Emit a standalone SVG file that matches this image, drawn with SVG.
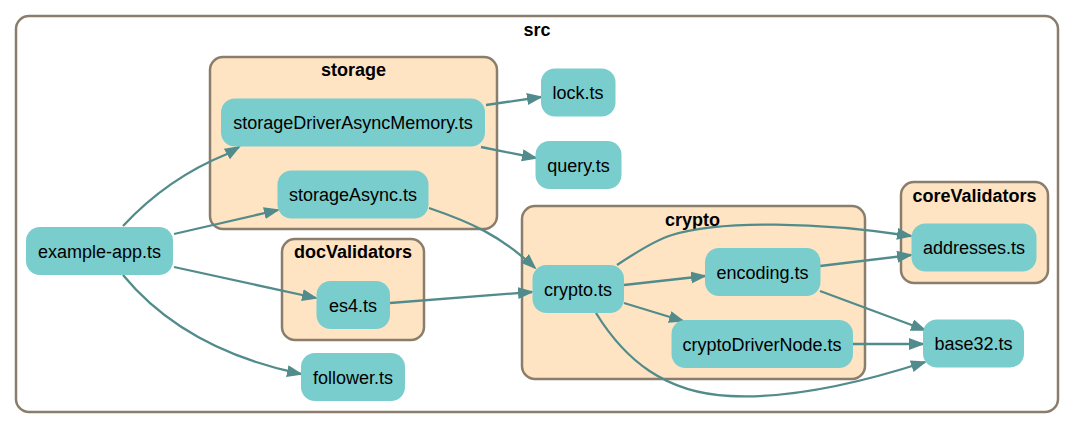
<svg xmlns="http://www.w3.org/2000/svg" width="1073" height="428" viewBox="0 0 1073 428">
<style>
.cl{fill:#ffe4c4;stroke:#8b7d6b;stroke-width:2.5}
.root{fill:#ffffff;stroke:#8b7d6b;stroke-width:2.5}
.ct{font-family:"Liberation Sans",Arial,sans-serif;font-size:18px;font-weight:bold;fill:#000;text-anchor:middle}
.nd{fill:#79cdcd;stroke:none}
.nt{font-family:"Liberation Sans",Arial,sans-serif;font-size:18px;fill:#000;text-anchor:middle}
.e{fill:none;stroke:#528b8b;stroke-width:2.3;marker-end:url(#ah)}
</style>
<defs>
<marker id="ah" markerUnits="userSpaceOnUse" markerWidth="17" markerHeight="13" refX="14" refY="6" orient="auto">
<path d="M0,0 L16,6 L0,12 z" fill="#528b8b"/>
</marker>
</defs>
<g id="cluster_src">
<rect class="root" x="16" y="16" width="1042" height="396" rx="13"/>
<text class="ct" x="537" y="36">src</text>
</g>
<g id="cluster_storage">
<rect class="cl" x="210" y="57" width="287" height="172" rx="13"/>
<text class="ct" x="353.5" y="76">storage</text>
</g>
<g id="cluster_docValidators">
<rect class="cl" x="282" y="239" width="142" height="101" rx="13"/>
<text class="ct" x="353" y="258">docValidators</text>
</g>
<g id="cluster_crypto">
<rect class="cl" x="522" y="206" width="343" height="173" rx="13"/>
<text class="ct" x="692.5" y="226">crypto</text>
</g>
<g id="cluster_coreValidators">
<rect class="cl" x="901" y="182" width="147" height="101" rx="13"/>
<text class="ct" x="974.5" y="201.5">coreValidators</text>
</g>
<g id="edges">
<path class="e" d="M123,226 C150,197 185,171 227,154 L239,147"/>
<path class="e" d="M174,234 L278,210"/>
<path class="e" d="M174,267 L316,298"/>
<path class="e" d="M123,275 C160,320 215,356 301,374"/>
<path class="e" d="M486,105 L541,97"/>
<path class="e" d="M481,147 L536,158"/>
<path class="e" d="M429,208 C470,222 500,235 535,268"/>
<path class="e" d="M390,303 L532,292"/>
<path class="e" d="M624,285 L705,276"/>
<path class="e" d="M624,303 L683,321"/>
<path class="e" d="M617,265 C635,253 655,240 672,235 C720,220 820,222 911,236"/>
<path class="e" d="M820,266 L911,255"/>
<path class="e" d="M820,291 L925,330"/>
<path class="e" d="M853,344 L923,344"/>
<path class="e" d="M596,313 C625,360 665,393 730,396 C790,399 860,383 925,362"/>
</g>
<g id="node_example-app">
<rect class="nd" x="26" y="227" width="147" height="48" rx="14"/>
<text class="nt" x="99.5" y="257.5">example-app.ts</text>
</g>
<g id="node_storageDriverAsyncMemory">
<rect class="nd" x="221" y="98.5" width="264" height="48" rx="14"/>
<text class="nt" x="353" y="129">storageDriverAsyncMemory.ts</text>
</g>
<g id="node_storageAsync">
<rect class="nd" x="277.5" y="170.5" width="151" height="48" rx="14"/>
<text class="nt" x="353" y="201">storageAsync.ts</text>
</g>
<g id="node_es4">
<rect class="nd" x="316.5" y="281" width="73.5" height="48" rx="14"/>
<text class="nt" x="353" y="311.5">es4.ts</text>
</g>
<g id="node_follower">
<rect class="nd" x="301" y="353" width="104" height="48" rx="14"/>
<text class="nt" x="353" y="383.5">follower.ts</text>
</g>
<g id="node_lock">
<rect class="nd" x="541" y="68.5" width="74.5" height="48" rx="14"/>
<text class="nt" x="578" y="99">lock.ts</text>
</g>
<g id="node_query">
<rect class="nd" x="535.5" y="141" width="86" height="48" rx="14"/>
<text class="nt" x="578.5" y="171.5">query.ts</text>
</g>
<g id="node_crypto">
<rect class="nd" x="532.5" y="265" width="91.5" height="48" rx="14"/>
<text class="nt" x="578" y="295.5">crypto.ts</text>
</g>
<g id="node_encoding">
<rect class="nd" x="705" y="248" width="115.5" height="48" rx="14"/>
<text class="nt" x="762.5" y="278.5">encoding.ts</text>
</g>
<g id="node_cryptoDriverNode">
<rect class="nd" x="671.5" y="320" width="181.5" height="48" rx="14"/>
<text class="nt" x="762" y="350.5">cryptoDriverNode.ts</text>
</g>
<g id="node_addresses">
<rect class="nd" x="911.5" y="223.5" width="125" height="48" rx="14"/>
<text class="nt" x="974" y="254">addresses.ts</text>
</g>
<g id="node_base32">
<rect class="nd" x="923" y="319.5" width="101" height="48" rx="14"/>
<text class="nt" x="973.5" y="350">base32.ts</text>
</g>
</svg>
